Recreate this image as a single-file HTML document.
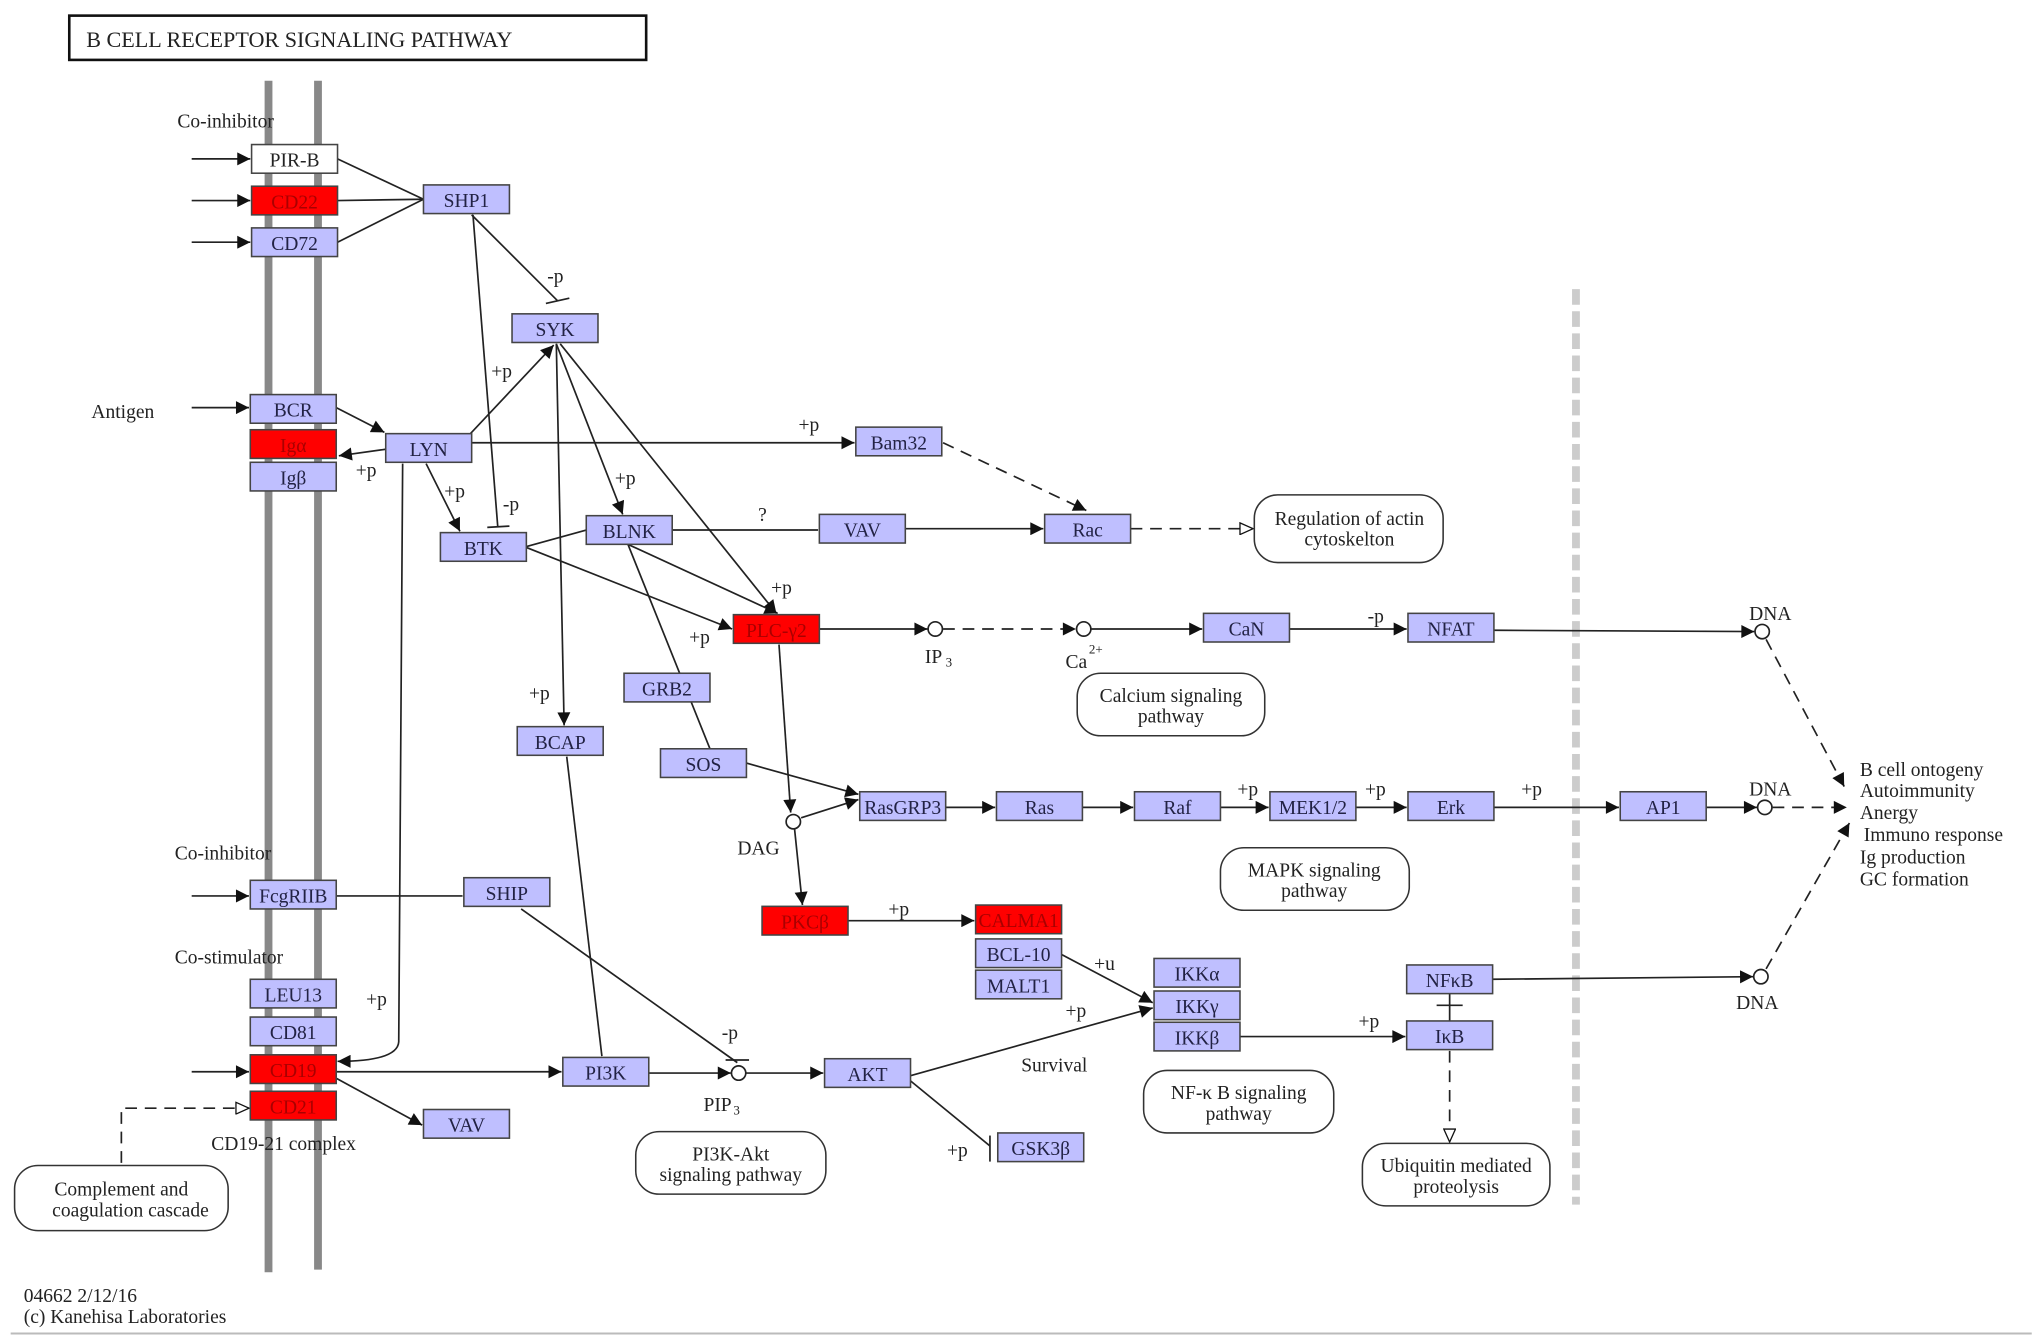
<!DOCTYPE html>
<html><head><meta charset="utf-8"><style>
html,body{margin:0;padding:0;background:#fff;width:2032px;height:1340px;overflow:hidden}
text{font-family:"Liberation Serif",serif;font-size:15px;fill:#222}
.n rect{fill:#bfbfff;stroke:#444;stroke-width:1.2}
.n text{text-anchor:middle;fill:#222244;font-size:15px}
.r rect{fill:#ff0000;stroke:#444;stroke-width:1.2}
.r text{text-anchor:middle;fill:#aa0000;font-size:15px}
.w rect{fill:#fff;stroke:#444;stroke-width:1.2}
.w text{text-anchor:middle;fill:#222;font-size:15px}
.l{stroke:#222;stroke-width:1.3;fill:none}
.d{stroke:#222;stroke-width:1.3;fill:none;stroke-dasharray:9,6}
.a{marker-end:url(#ar)}
.o{marker-end:url(#op)}
.rr{fill:#fff;stroke:#333;stroke-width:1.2}
.c{fill:#fff;stroke:#222;stroke-width:1.3}
.lbl{font-size:15px}
</style></head><body>
<svg width="2032" height="1340" viewBox="0 0 1560 1029" xmlns="http://www.w3.org/2000/svg">
<defs>
<marker id="ar" viewBox="0 0 10 10" refX="10" refY="5" markerWidth="12" markerHeight="10" markerUnits="userSpaceOnUse" orient="auto"><path d="M0,0L10,5L0,10z" fill="#111"/></marker>
<marker id="op" viewBox="0 0 10 10" refX="10" refY="5" markerWidth="12" markerHeight="10" markerUnits="userSpaceOnUse" orient="auto"><path d="M0,0.5L10,5L0,9.5z" fill="#fff" stroke="#111" stroke-width="1"/></marker>
</defs>
<rect x="53" y="12" width="443" height="34" fill="#fff" stroke="#111" stroke-width="2"/>
<text x="66" y="36" style="font-size:17px">B  CELL  RECEPTOR  SIGNALING  PATHWAY</text>
<line x1="206" y1="62" x2="206" y2="977" stroke="#888" stroke-width="6"/>
<line x1="244" y1="62" x2="244" y2="975" stroke="#888" stroke-width="6"/>
<line x1="1210" y1="222" x2="1210" y2="925" stroke="#ccc" stroke-width="6" stroke-dasharray="12,5"/>
<line x1="8" y1="1024" x2="1560" y2="1024" stroke="#bbb" stroke-width="1.5"/>

<!-- edges -->
<g>
<line class="l a" x1="147" y1="122" x2="192" y2="122"/>
<line class="l a" x1="147" y1="154" x2="192" y2="154"/>
<line class="l a" x1="147" y1="186" x2="192" y2="186"/>
<line class="l" x1="259" y1="122" x2="325" y2="153"/>
<line class="l" x1="259" y1="154" x2="325" y2="153"/>
<line class="l" x1="259" y1="186" x2="325" y2="153"/>
<line class="l" x1="362" y1="165" x2="428" y2="231"/><line class="l" x1="419" y1="233" x2="437" y2="229"/>
<line class="l" x1="363" y1="165" x2="382" y2="404"/><line class="l" x1="374" y1="405" x2="391" y2="404"/>
<line class="l a" x1="361" y1="333" x2="425" y2="265"/>
<line class="l a" x1="147" y1="313" x2="191" y2="313"/>
<line class="l a" x1="258" y1="313" x2="295" y2="332"/>
<line class="l a" x1="296" y1="345" x2="260" y2="350"/>
<line class="l a" x1="362" y1="340" x2="656" y2="340"/>
<line class="l a" x1="327" y1="356" x2="353" y2="408"/>
<path class="l a" d="M309,356 L306,800 Q305,815 259,815"/>
<line class="l a" x1="427" y1="264" x2="478" y2="395"/>
<line class="l a" x1="430" y1="264" x2="596" y2="471"/>
<line class="l a" x1="427" y1="264" x2="433" y2="557"/>
<line class="l" x1="403" y1="420" x2="450" y2="407"/>
<line class="l a" x1="403" y1="420" x2="562" y2="483"/>
<line class="l a" x1="482" y1="418" x2="597" y2="471"/>
<line class="l" x1="516" y1="407" x2="628" y2="407"/>
<line class="l" x1="482" y1="418" x2="545" y2="575"/>
<line class="l a" x1="695" y1="406" x2="801" y2="406"/>
<line class="d a" x1="724" y1="340" x2="834" y2="392"/>
<line class="d o" x1="868" y1="406" x2="962" y2="406"/>
<line class="l a" x1="629" y1="483" x2="712" y2="483"/>
<line class="d a" x1="724" y1="483" x2="826" y2="483"/>
<line class="l a" x1="838" y1="483" x2="923" y2="483"/>
<line class="l a" x1="990" y1="483" x2="1080" y2="483"/>
<line class="l a" x1="1147" y1="484" x2="1347" y2="485"/>
<line class="l a" x1="598" y1="495" x2="607" y2="624"/>
<line class="l a" x1="615" y1="628" x2="659" y2="614"/>
<line class="l a" x1="573" y1="586" x2="659" y2="610"/>
<line class="l a" x1="610" y1="637" x2="616" y2="695"/>
<line class="l a" x1="726" y1="620" x2="764" y2="620"/>
<line class="l a" x1="831" y1="620" x2="870" y2="620"/>
<line class="l a" x1="937" y1="620" x2="974" y2="620"/>
<line class="l a" x1="1041" y1="620" x2="1080" y2="620"/>
<line class="l a" x1="1147" y1="620" x2="1243" y2="620"/>
<line class="l a" x1="1310" y1="620" x2="1349" y2="620"/>
<line class="l a" x1="651" y1="707" x2="748" y2="707"/>
<line class="l a" x1="815" y1="733" x2="885" y2="770"/>
<line class="l a" x1="699" y1="826" x2="885" y2="774"/>
<line class="l a" x1="952" y1="796" x2="1079" y2="796"/>
<line class="l" x1="1113" y1="763" x2="1113" y2="784"/><line class="l" x1="1103" y1="772" x2="1123" y2="772"/>
<line class="l a" x1="1146" y1="752" x2="1346" y2="750"/>
<line class="d o" x1="1113" y1="807" x2="1113" y2="877"/>
<line class="d a" x1="1356" y1="491" x2="1416" y2="604"/>
<line class="d a" x1="1361" y1="620" x2="1418" y2="620"/>
<line class="d a" x1="1356" y1="744" x2="1420" y2="632"/>
<line class="l a" x1="147" y1="688" x2="191" y2="688"/>
<line class="l" x1="258" y1="688" x2="355" y2="688"/>
<line class="l" x1="400" y1="698" x2="566" y2="816"/><line class="l" x1="557" y1="814" x2="575" y2="814"/>
<line class="l" x1="435" y1="581" x2="462" y2="811"/>
<line class="l a" x1="258" y1="823" x2="431" y2="823"/>
<line class="l a" x1="147" y1="823" x2="191" y2="823"/>
<line class="l a" x1="498" y1="824" x2="561" y2="824"/>
<line class="l a" x1="573" y1="824" x2="632" y2="824"/>
<line class="l" x1="699" y1="830" x2="760" y2="880"/><line class="l" x1="760" y1="872" x2="760" y2="892"/>
<line class="l a" x1="258" y1="828" x2="324" y2="864"/>
<path class="d o" d="M93,893 L93,851 L191,851"/>
</g>

<!-- circles -->
<circle class="c" cx="718" cy="483" r="5.5"/>
<circle class="c" cx="832" cy="483" r="5.5"/>
<circle class="c" cx="1353" cy="485" r="5.5"/>
<circle class="c" cx="609" cy="631" r="5.5"/>
<circle class="c" cx="1355" cy="620" r="5.5"/>
<circle class="c" cx="1352" cy="750" r="5.5"/>
<circle class="c" cx="567" cy="824" r="5.5"/>

<!-- nodes -->
<g class="w"><rect x="193" y="111" width="66" height="22"/><text x="226" y="128">PIR-B</text></g>
<g class="r"><rect x="193" y="143" width="66" height="22"/><text x="226" y="160">CD22</text></g>
<g class="n"><rect x="193" y="175" width="66" height="22"/><text x="226" y="192">CD72</text></g>
<g class="n"><rect x="325" y="142" width="66" height="22"/><text x="358" y="159">SHP1</text></g>
<g class="n"><rect x="393" y="241" width="66" height="22"/><text x="426" y="258">SYK</text></g>
<g class="n"><rect x="192" y="303" width="66" height="22"/><text x="225" y="320">BCR</text></g>
<g class="r"><rect x="192" y="330" width="66" height="22"/><text x="225" y="347">Igα</text></g>
<g class="n"><rect x="192" y="355" width="66" height="22"/><text x="225" y="372">Igβ</text></g>
<g class="n"><rect x="296" y="333" width="66" height="22"/><text x="329" y="350">LYN</text></g>
<g class="n"><rect x="338" y="409" width="66" height="22"/><text x="371" y="426">BTK</text></g>
<g class="n"><rect x="450" y="396" width="66" height="22"/><text x="483" y="413">BLNK</text></g>
<g class="n"><rect x="657" y="328" width="66" height="22"/><text x="690" y="345">Bam32</text></g>
<g class="n"><rect x="629" y="395" width="66" height="22"/><text x="662" y="412">VAV</text></g>
<g class="n"><rect x="802" y="395" width="66" height="22"/><text x="835" y="412">Rac</text></g>
<g class="r"><rect x="563" y="472" width="66" height="22"/><text x="596" y="489">PLC-γ2</text></g>
<g class="n"><rect x="924" y="471" width="66" height="22"/><text x="957" y="488">CaN</text></g>
<g class="n"><rect x="1081" y="471" width="66" height="22"/><text x="1114" y="488">NFAT</text></g>
<g class="n"><rect x="479" y="517" width="66" height="22"/><text x="512" y="534">GRB2</text></g>
<g class="n"><rect x="397" y="558" width="66" height="22"/><text x="430" y="575">BCAP</text></g>
<g class="n"><rect x="507" y="575" width="66" height="22"/><text x="540" y="592">SOS</text></g>
<g class="n"><rect x="660" y="608" width="66" height="22"/><text x="693" y="625">RasGRP3</text></g>
<g class="n"><rect x="765" y="608" width="66" height="22"/><text x="798" y="625">Ras</text></g>
<g class="n"><rect x="871" y="608" width="66" height="22"/><text x="904" y="625">Raf</text></g>
<g class="n"><rect x="975" y="608" width="66" height="22"/><text x="1008" y="625">MEK1/2</text></g>
<g class="n"><rect x="1081" y="608" width="66" height="22"/><text x="1114" y="625">Erk</text></g>
<g class="n"><rect x="1244" y="608" width="66" height="22"/><text x="1277" y="625">AP1</text></g>
<g class="n"><rect x="192" y="676" width="66" height="22"/><text x="225" y="693">FcgRIIB</text></g>
<g class="n"><rect x="356" y="674" width="66" height="22"/><text x="389" y="691">SHIP</text></g>
<g class="r"><rect x="585" y="696" width="66" height="22"/><text x="618" y="713">PKCβ</text></g>
<g class="r"><rect x="749" y="695" width="66" height="22"/><text x="782" y="712">CALMA1</text></g>
<g class="n"><rect x="749" y="721" width="66" height="22"/><text x="782" y="738">BCL-10</text></g>
<g class="n"><rect x="749" y="745" width="66" height="22"/><text x="782" y="762">MALT1</text></g>
<g class="n"><rect x="886" y="736" width="66" height="22"/><text x="919" y="753">IKKα</text></g>
<g class="n"><rect x="886" y="761" width="66" height="22"/><text x="919" y="778">IKKγ</text></g>
<g class="n"><rect x="886" y="785" width="66" height="22"/><text x="919" y="802">IKKβ</text></g>
<g class="n"><rect x="1080" y="741" width="66" height="22"/><text x="1113" y="758">NFκB</text></g>
<g class="n"><rect x="1080" y="784" width="66" height="22"/><text x="1113" y="801">IκB</text></g>
<g class="n"><rect x="192" y="752" width="66" height="22"/><text x="225" y="769">LEU13</text></g>
<g class="n"><rect x="192" y="781" width="66" height="22"/><text x="225" y="798">CD81</text></g>
<g class="r"><rect x="192" y="810" width="66" height="22"/><text x="225" y="827">CD19</text></g>
<g class="r"><rect x="192" y="838" width="66" height="22"/><text x="225" y="855">CD21</text></g>
<g class="n"><rect x="432" y="812" width="66" height="22"/><text x="465" y="829">PI3K</text></g>
<g class="n"><rect x="633" y="813" width="66" height="22"/><text x="666" y="830">AKT</text></g>
<g class="n"><rect x="325" y="852" width="66" height="22"/><text x="358" y="869">VAV</text></g>
<g class="n"><rect x="766" y="870" width="66" height="22"/><text x="799" y="887">GSK3β</text></g>

<!-- rounded -->
<g style="text-anchor:middle">
<rect class="rr" x="963" y="380" width="145" height="52" rx="18"/><text x="1036" y="403" text-anchor="middle">Regulation of actin</text><text x="1036" y="419" text-anchor="middle">cytoskelton</text>
<rect class="rr" x="827" y="517" width="144" height="48" rx="18"/><text x="899" y="539" text-anchor="middle">Calcium signaling</text><text x="899" y="555" text-anchor="middle">pathway</text>
<rect class="rr" x="937" y="651" width="145" height="48" rx="18"/><text x="1009" y="673" text-anchor="middle">MAPK signaling</text><text x="1009" y="689" text-anchor="middle">pathway</text>
<rect class="rr" x="878" y="822" width="146" height="48" rx="18"/><text x="951" y="844" text-anchor="middle">NF-κ B signaling</text><text x="951" y="860" text-anchor="middle">pathway</text>
<rect class="rr" x="488" y="869" width="146" height="48" rx="18"/><text x="561" y="891" text-anchor="middle">PI3K-Akt</text><text x="561" y="907" text-anchor="middle">signaling pathway</text>
<rect class="rr" x="1046" y="878" width="144" height="48" rx="18"/><text x="1118" y="900" text-anchor="middle">Ubiquitin mediated</text><text x="1118" y="916" text-anchor="middle">proteolysis</text>
<rect class="rr" x="11" y="895" width="164" height="50" rx="18"/><text x="93" y="918" text-anchor="middle">Complement and</text><text x="100" y="934" text-anchor="middle">coagulation cascade</text>
</g>

<!-- labels -->
<text x="136" y="98">Co-inhibitor</text>
<text x="70" y="321">Antigen</text>
<text x="134" y="660">Co-inhibitor</text>
<text x="134" y="740">Co-stimulator</text>
<text x="162" y="883">CD19-21 complex</text>
<text x="420" y="217">-p</text>
<text x="377" y="290">+p</text>
<text x="386" y="392">-p</text>
<text x="273" y="366">+p</text>
<text x="341" y="382">+p</text>
<text x="613" y="331">+p</text>
<text x="472" y="372">+p</text>
<text x="582" y="400">?</text>
<text x="592" y="456">+p</text>
<text x="529" y="494">+p</text>
<text x="406" y="537">+p</text>
<text x="281" y="772">+p</text>
<text x="710" y="509">IP</text><text x="726" y="512" style="font-size:10px">3</text>
<text x="818" y="513">Ca</text><text x="836" y="502" style="font-size:10px">2+</text>
<text x="1050" y="478">-p</text>
<text x="1343" y="476">DNA</text>
<text x="1343" y="611">DNA</text>
<text x="1333" y="775">DNA</text>
<text x="566" y="656">DAG</text>
<text x="950" y="611">+p</text>
<text x="1048" y="611">+p</text>
<text x="1168" y="611">+p</text>
<text x="682" y="703">+p</text>
<text x="840" y="745">+u</text>
<text x="818" y="781">+p</text>
<text x="784" y="823">Survival</text>
<text x="1043" y="789">+p</text>
<text x="554" y="798">-p</text>
<text x="540" y="853">PIP</text><text x="563" y="856" style="font-size:10px">3</text>
<text x="727" y="888">+p</text>
<text x="1428" y="596">B cell ontogeny</text>
<text x="1428" y="612">Autoimmunity</text>
<text x="1428" y="629">Anergy</text>
<text x="1431" y="646">Immuno response</text>
<text x="1428" y="663">Ig production</text>
<text x="1428" y="680">GC formation</text>
<text x="18" y="1000">04662 2/12/16</text>
<text x="18" y="1016">(c) Kanehisa Laboratories</text>
</svg>
</body></html>
